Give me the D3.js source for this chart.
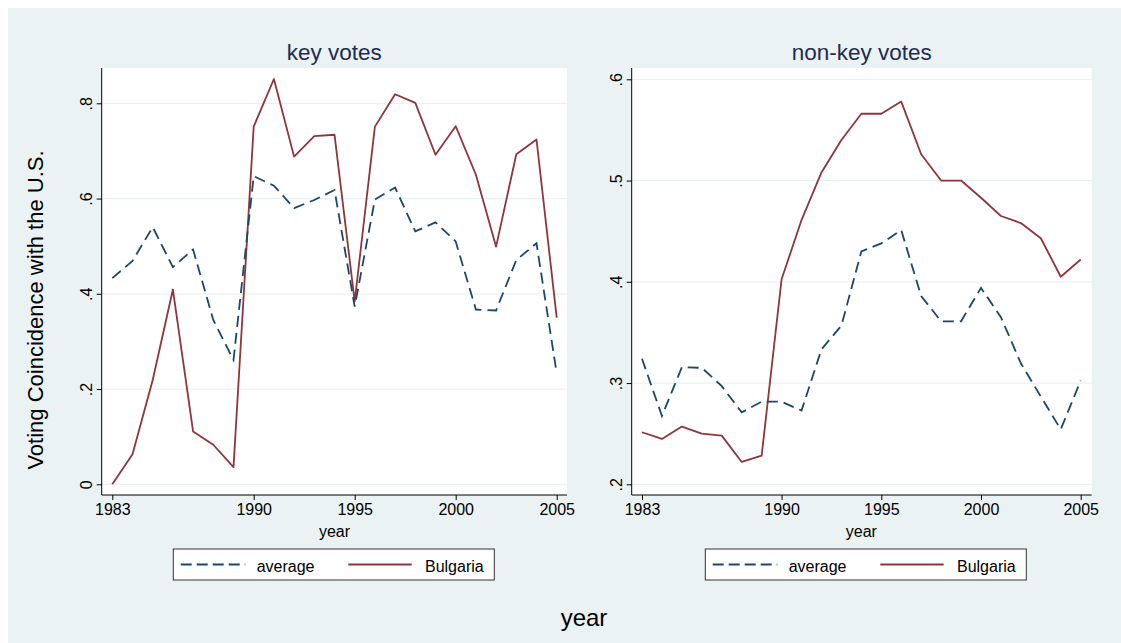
<!DOCTYPE html>
<html><head><meta charset="utf-8">
<script src="https://cdn.jsdelivr.net/npm/d3@7"></script>
<style>body{margin:0;background:#fff}svg{display:block}text{font-family:"Liberation Sans",Arial,sans-serif}</style>
</head><body>
<svg id="c" width="1121" height="643"></svg>
<script>
const years = d3.range(1983, 2006);
const xTicks = [1983, 1990, 1995, 2000, 2005];

const keyAverage = [0.433,0.469,0.540,0.456,0.493,0.345,0.261,0.647,0.627,0.580,0.597,0.618,0.373,0.598,0.623,0.531,0.550,0.510,0.367,0.365,0.471,0.506,0.233];
const keyBulgaria = [0.000,0.063,0.219,0.409,0.111,0.083,0.036,0.751,0.851,0.688,0.731,0.734,0.384,0.751,0.819,0.801,0.692,0.752,0.650,0.499,0.693,0.724,0.350];
const nonKeyAverage = [0.324,0.2675,0.3156,0.315,0.297,0.271,0.2816,0.2816,0.2728,0.3333,0.3567,0.430,0.438,0.451,0.386,0.361,0.361,0.394,0.365,0.3195,0.2866,0.2543,0.3024];
const nonKeyBulgaria = [0.2514,0.2448,0.2570,0.2500,0.2481,0.2221,0.2283,0.4025,0.461,0.508,0.540,0.566,0.566,0.578,0.526,0.500,0.500,0.483,0.465,0.458,0.443,0.405,0.422];

const keyYTicks = [0, 0.2, 0.4, 0.6, 0.8];
const nonKeyYTicks = [0.2, 0.3, 0.4, 0.5, 0.6];
const panelTitles = ["key votes", "non-key votes"];
const seriesNames = ["average", "Bulgaria"];

const BG = "#EAF2F3", NAVY = "#1A476F", MAROON = "#90353B", TITLE = "#1E2B55";
const svg = d3.select("#c");
svg.append("rect").attr("x",8).attr("y",8).attr("width",1113).attr("height",635).attr("fill",BG);

function fmt(v){ return v === 0 ? "0" : d3.format(".1f")(v).replace(/^0/,""); }

const panels = [
  {x0:101.7, x1:567, xa:112.3, xb:556.7, ydom:[0,0.8], yr:[484.3,103.3], yTicks:keyYTicks, avg:keyAverage, bul:keyBulgaria, title:panelTitles[0], legX:173.3},
  {x0:631.7, x1:1091.7, xa:642, xb:1080.7, ydom:[0.2,0.6], yr:[484.3,79.3], yTicks:nonKeyYTicks, avg:nonKeyAverage, bul:nonKeyBulgaria, title:panelTitles[1], legX:705.3}
];
const plotTop = 68, plotBottom = 495;

panels.forEach(p => {
  const x = d3.scaleLinear().domain([1983,2005]).range([p.xa,p.xb]);
  const y = d3.scaleLinear().domain(p.ydom).range(p.yr);
  const g = svg.append("g");
  g.append("rect").attr("x",p.x0).attr("y",plotTop).attr("width",p.x1-p.x0).attr("height",plotBottom-plotTop).attr("fill","#fff");
  g.selectAll(".grid").data(p.yTicks).join("line").attr("class","grid")
    .attr("x1",p.x0).attr("x2",p.x1).attr("y1",d=>y(d)).attr("y2",d=>y(d))
    .attr("stroke",BG).attr("stroke-width",1.3);
  const ya = g.append("g").attr("transform",`translate(${p.x0},0)`)
    .call(d3.axisLeft(y).tickValues(p.yTicks).tickFormat(fmt).tickSize(5));
  ya.select(".domain").attr("d",`M0,${plotTop}V${plotBottom}`).attr("stroke","#000");
  ya.selectAll(".tick line").attr("stroke","#000");
  ya.selectAll(".tick text").attr("font-size",16).attr("fill","#000")
    .attr("x",null).attr("dy",null).attr("text-anchor","middle")
    .attr("transform","translate(-10,0) rotate(-90)");
  const xa = g.append("g").attr("transform",`translate(0,${plotBottom})`)
    .call(d3.axisBottom(x).tickValues(xTicks).tickFormat(d3.format("d")).tickSize(5).tickPadding(4));
  xa.select(".domain").attr("d",`M${p.x0},0H${p.x1}`).attr("stroke","#000");
  xa.selectAll(".tick line").attr("stroke","#000");
  xa.selectAll(".tick text").attr("font-size",16).attr("fill","#000");
  g.append("text").attr("x",(p.xa+p.xb)/2).attr("y",537).attr("text-anchor","middle").attr("font-size",16).text("year");
  g.append("text").attr("x",(p.x0+p.x1)/2).attr("y",60).attr("text-anchor","middle").attr("font-size",22.5).attr("fill",TITLE).text(p.title);
  const line = d3.line().x((d,i)=>x(years[i])).y(d=>y(d));
  g.append("path").datum(p.bul).attr("d",line).attr("fill","none").attr("stroke",MAROON).attr("stroke-width",1.8).attr("stroke-linejoin","round");
  g.append("path").datum(p.avg).attr("d",line).attr("fill","none").attr("stroke",NAVY).attr("stroke-width",1.8).attr("stroke-dasharray","11,6");
  const lg = g.append("g").attr("transform",`translate(${p.legX},549)`);
  lg.append("rect").attr("width",321).attr("height",31).attr("fill","#fff").attr("stroke","#333").attr("stroke-width",1);
  lg.append("line").attr("x1",7.4).attr("x2",72).attr("y1",15.5).attr("y2",15.5).attr("stroke",NAVY).attr("stroke-width",1.8).attr("stroke-dasharray","11,5");
  lg.append("text").attr("x",83.4).attr("y",22.5).attr("font-size",16).text(seriesNames[0]);
  lg.append("line").attr("x1",175).attr("x2",238.4).attr("y1",15.5).attr("y2",15.5).attr("stroke",MAROON).attr("stroke-width",1.8);
  lg.append("text").attr("x",251.7).attr("y",22.5).attr("font-size",16).text(seriesNames[1]);
});

svg.append("text").attr("transform","translate(43,310) rotate(-90)").attr("text-anchor","middle").attr("font-size",22).text("Voting Coincidence with the U.S.");
svg.append("text").attr("x",584).attr("y",626).attr("text-anchor","middle").attr("font-size",24).text("year");
</script>
</body></html>
